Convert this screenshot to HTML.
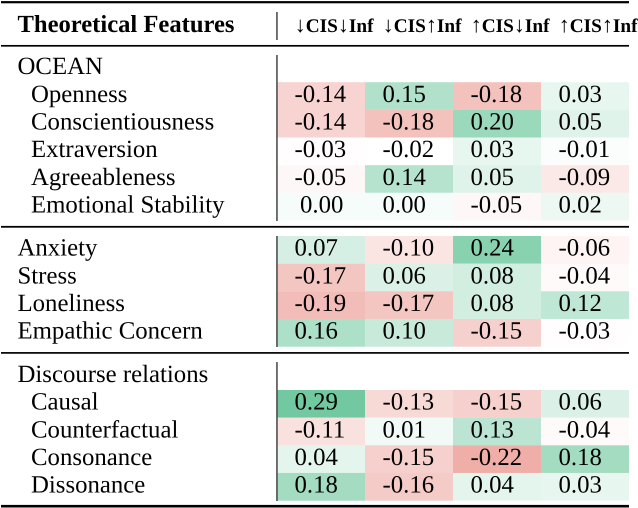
<!DOCTYPE html>
<html><head><meta charset="utf-8">
<style>
html,body{margin:0;padding:0;background:#fff}
svg{display:block}
text{font-family:"Liberation Serif",serif;fill:#000;text-rendering:geometricPrecision}
</style></head>
<body>
<svg id="t" xmlns="http://www.w3.org/2000/svg" width="638" height="508" viewBox="0 0 638 508"></svg>
<script>
const columns = ["↓CIS↓Inf", "↓CIS↑Inf", "↑CIS↓Inf", "↑CIS↑Inf"];
const headerTitle = "Theoretical Features";
const oceanLabels = ["Openness", "Conscientiousness", "Extraversion", "Agreeableness", "Emotional Stability"];
const oceanValues = [
  ["-0.14", "0.15", "-0.18", "0.03"],
  ["-0.14", "-0.18", "0.20", "0.05"],
  ["-0.03", "-0.02", "0.03", "-0.01"],
  ["-0.05", "0.14", "0.05", "-0.09"],
  ["0.00", "0.00", "-0.05", "0.02"]
];
const affectLabels = ["Anxiety", "Stress", "Loneliness", "Empathic Concern"];
const affectValues = [
  ["0.07", "-0.10", "0.24", "-0.06"],
  ["-0.17", "0.06", "0.08", "-0.04"],
  ["-0.19", "-0.17", "0.08", "0.12"],
  ["0.16", "0.10", "-0.15", "-0.03"]
];
const discourseLabels = ["Causal", "Counterfactual", "Consonance", "Dissonance"];
const discourseValues = [
  ["0.29", "-0.13", "-0.15", "0.06"],
  ["-0.11", "0.01", "0.13", "-0.04"],
  ["0.04", "-0.15", "-0.22", "0.18"],
  ["0.18", "-0.16", "0.04", "0.03"]
];

const svg = document.getElementById('t');
const NS = 'http://www.w3.org/2000/svg';
const COL0 = 277, COLW = 88, ROWH = 27.65, FONT = 24.8;

function colX(i) { return COL0 + i * COLW; }
function rowY(top, i) { return top + i * ROWH; }
function cellColor(v) {
  const n = parseFloat(v);
  let to, t;
  if (n >= -0.02) { to = [114, 201, 161]; t = (n + 0.02) / 0.31; }
  else { to = [239, 174, 168]; t = Math.pow((-n - 0.02) / 0.20, 1.25); }
  const c = to.map(k => Math.round(255 + (k - 255) * t));
  return 'rgb(' + c.join(',') + ')';
}
function add(tag, attrs, parent) {
  const e = document.createElementNS(NS, tag);
  for (const k in attrs) e.setAttribute(k, attrs[k]);
  (parent || svg).appendChild(e);
  return e;
}
function rule(y, w) {
  const r = add('rect', { x: 1, y: y - w / 2, width: 628, height: w, fill: '#000' });
  
  
}
function vline(y1, y2) {
  const r = add('rect', { x: 276.2, y: y1, width: 1.5, height: y2 - y1, fill: '#444' });
  
  
}
function label(txt, x, y) {
  const e = add('text', { x: x, y: y, 'font-size': FONT });
  e.textContent = txt;
  
  
}
function group(labels, values, top, indent) {
  const lx = indent ? 31 : 17.5;
  values.forEach((row, r) => {
    label(labels[r], lx, rowY(top, r) + 19.6);
    row.forEach((v, c) => {
      const cell = add('rect', { x: colX(c), y: rowY(top, r), width: COLW, height: ROWH + 0.1, fill: cellColor(v) });
      
      
      const pad = (v === '0.00' && c === 0) ? 23 : 17.5;
      const tx = add('text', { x: colX(c) + pad, y: rowY(top, r) + 19.6, 'font-size': FONT });
      tx.textContent = v;
      
      
    });
  });
}

rule(2.2, 2.2);
rule(45.8, 1.7);
rule(226.8, 1.8);
rule(352.9, 1.7);
rule(506.2, 2.6);

const title = add('text', { x: 17.5, y: 32, 'font-size': 24.6, 'font-weight': 'bold' });
title.textContent = headerTitle;



columns.forEach((h, i) => {
  const e = add('text', { x: colX(i) + 17.7, y: 32, 'font-size': 19.3, 'font-weight': 'bold' });
  
  
  h.split(/([↓↑])/).filter(Boolean).forEach(part => {
    const s = add('tspan', /[↓↑]/.test(part)
      ? { 'font-size': 22, 'font-weight': 'normal' }
      : { 'font-size': 19.3, 'font-weight': 'bold' }, e);
    s.textContent = part;
  });
});

label('OCEAN', 17.5, 74);
group(oceanLabels, oceanValues, 82.2, true);
group(affectLabels, affectValues, 236, false);
label('Discourse relations', 17.5, 382);
group(discourseLabels, discourseValues, 390, true);

vline(12, 40);
vline(55, 221);
vline(236, 347);
vline(362, 501);
</script>
</body></html>
